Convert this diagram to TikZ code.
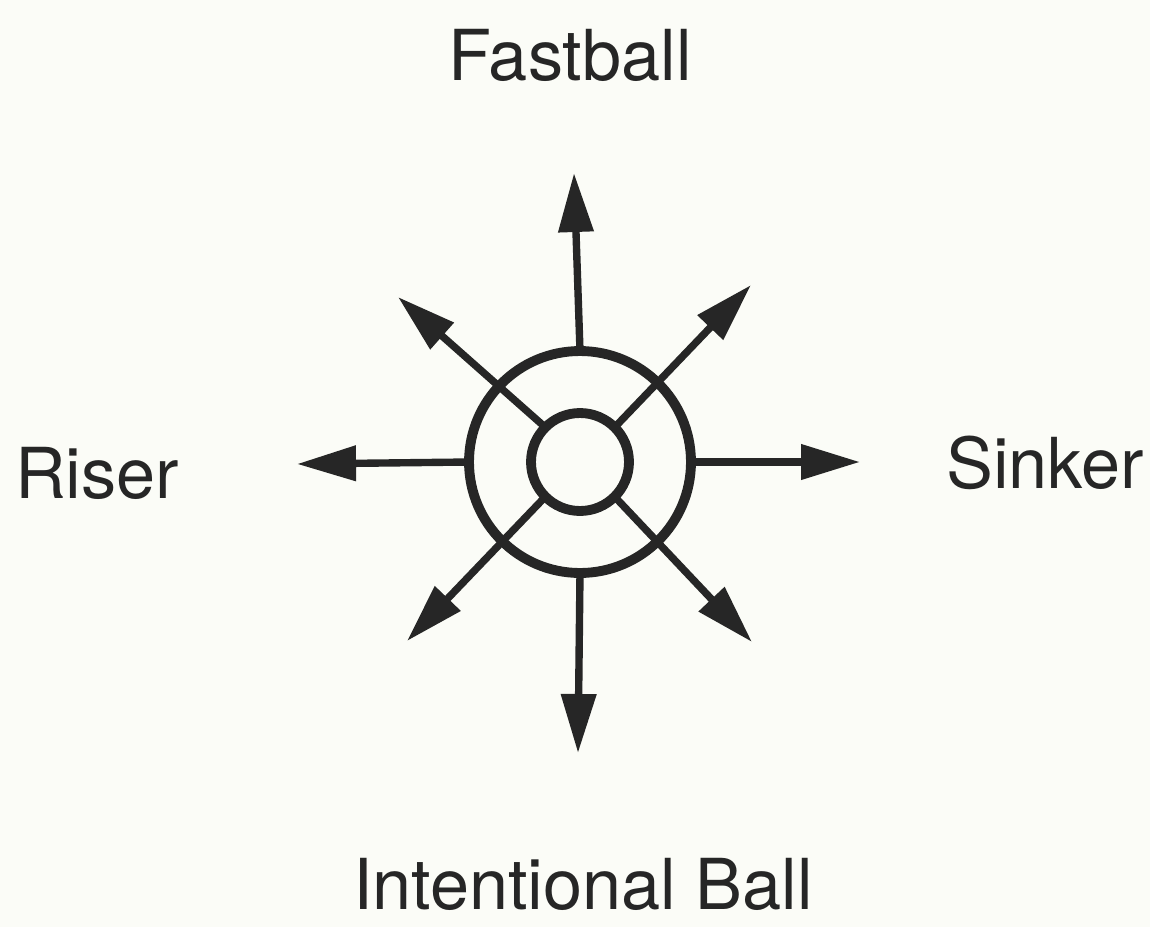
\documentclass[tikz,border=0pt]{standalone}
\usepackage{fontspec}
\setmainfont{TeX Gyre Heros}
\usetikzlibrary{arrows.meta}
\definecolor{ink}{RGB}{38,38,38}
\definecolor{paper}{RGB}{251,252,247}

\begin{document}
\begin{tikzpicture}[x=0.02cm, y=-0.02cm, ink,
    ring/.style={circle, draw, line width=5.6pt, inner sep=0pt, outer sep=0pt},
    pitch/.style={line width=4.2pt, -{Triangle[length=1.18cm, width=0.68cm]}},
    label/.style={font=\fontsize{40}{48}\selectfont, anchor=base, inner sep=0pt, text=ink}]
  \fill[paper] (0,0) rectangle (1150,927);
  \useasboundingbox (0,0) rectangle (1150,927);

  \node[ring, minimum size=4.44cm] (outer) at (580,462) {};
  \node[ring, minimum size=1.96cm] (inner) at (580,462) {};

  % Spitzen der Pfeile
  \coordinate (N) at (574,173);
  \coordinate (S) at (578,753);
  \coordinate (W) at (297,464);
  \coordinate (E) at (860,462);
  \coordinate (NE) at (751,285);
  \coordinate (NW) at (398,297);
  \coordinate (SW) at (407,641);
  \coordinate (SE) at (752,642);

  \draw[pitch] (outer.north) -- (N);
  \draw[pitch] (outer.south) -- (S);
  \draw[pitch] (outer.west) -- (W);
  \draw[pitch] (outer.east) -- (E);
  \draw[pitch] (inner.45) -- (NE);
  \draw[pitch] (inner.135) -- (NW);
  \draw[pitch] (inner.225) -- (SW);
  \draw[pitch] (inner.315) -- (SE);

  \node[label] (fast) at (570,80) {Fastball};
  \node[label] (riser) at (97,498) {Riser};
  \node[label] (sinker) at (1045,488) {Sinker};
  \node[label] (intent) at (583,909) {Intentional Ball};
\end{tikzpicture}
\end{document}
